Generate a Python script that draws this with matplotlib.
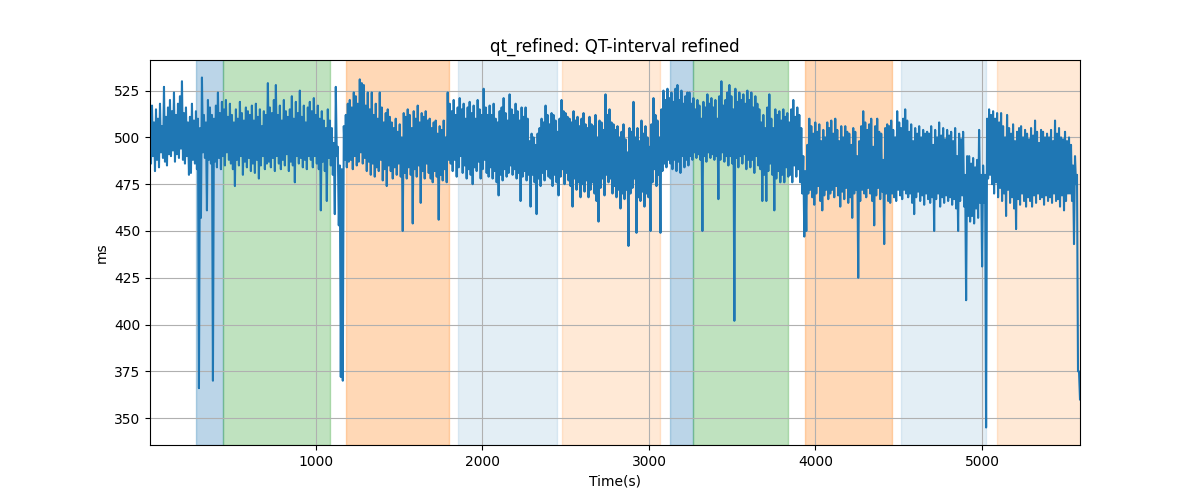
"""QT-interval refined trace with shaded protocol phases."""
import numpy as np
import matplotlib
matplotlib.use("Agg")
import matplotlib.pyplot as plt

# sampling of the refined QT series (s)
T0 = 3
DT = 6

# QT beat-to-beat swing (ms), one row per 120 s:
# upper beats
qt_upper = [
    512, 517, 508, 515, 510, 518, 506, 527, 511, 516,
    520, 514, 524, 512, 518, 522, 530, 513, 516, 508,
    511, 518, 509, 514, 510, 505, 532, 512, 508, 520,
    516, 512, 510, 517, 524, 513, 519, 515, 520, 511,
    518, 512, 508, 515, 510, 519, 513, 509, 516, 514,
    512, 517, 509, 518, 511, 515, 506, 514, 512, 529,
    516, 513, 520, 528, 512, 517, 509, 520, 514, 511,
    515, 522, 510, 519, 513, 525, 511, 517, 508, 516,
    519, 514, 521, 512, 517, 510, 514, 509, 505, 515,
    509, 505, 497, 527, 495, 485, 483, 506, 512, 518,
    520, 516, 524, 522, 518, 531, 529, 528, 517, 524,
    515, 524, 512, 518, 510, 524, 516, 508, 513, 515,
    511, 508, 505, 510, 503, 507, 500, 513, 511, 515,
    512, 505, 514, 510, 517, 508, 513, 511, 514, 509,
    510, 505, 508, 509, 502, 506, 504, 509, 500, 524,
    518, 514, 520, 512, 516, 521, 515, 518, 510, 516,
    519, 513, 517, 510, 520, 515, 512, 526, 516, 512,
    517, 512, 518, 510, 508, 514, 516, 521, 513, 509,
    523, 515, 512, 518, 514, 509, 516, 511, 516, 510,
    498, 502, 500, 496, 502, 505, 510, 508, 517, 512,
    507, 513, 512, 509, 503, 510, 520, 514, 513, 511,
    510, 508, 514, 509, 511, 506, 510, 513, 507, 505,
    511, 507, 506, 512, 500, 509, 508, 504, 523, 512,
    515, 508, 507, 504, 506, 500, 503, 507, 499, 492,
    505, 503, 519, 500, 505, 498, 509, 502, 506, 500,
    495, 507, 521, 512, 509, 500, 515, 525, 520, 526,
    521, 524, 519, 526, 528, 520, 525, 518, 522, 524,
    524, 518, 521, 515, 520, 517, 510, 519, 516, 523,
    518, 521, 516, 520, 510, 522, 530, 517, 520, 524,
    528, 522, 515, 526, 519, 524, 520, 523, 518, 525,
    520, 524, 516, 522, 518, 515, 508, 512, 505, 516,
    523, 510, 505, 515, 512, 514, 509, 515, 511, 513,
    508, 515, 520, 511, 516, 512, 505, 490, 482, 496,
    510, 506, 502, 508, 503, 507, 498, 504, 500, 508,
    505, 509, 502, 510, 504, 498, 506, 500, 506, 503,
    502, 496, 505, 503, 490, 498, 506, 514, 508, 504,
    507, 510, 495, 506, 510, 503, 502, 488, 505, 507,
    506, 509, 504, 500, 514, 508, 505, 510, 515, 509,
    503, 507, 498, 505, 502, 506, 500, 504, 502, 503,
    502, 506, 496, 504, 500, 508, 501, 505, 499, 504,
    501, 503, 498, 505, 490, 502, 499, 503, 480, 490,
    490, 486, 489, 484, 488, 504, 480, 485, 480, 510,
    515, 512, 514, 510, 513, 508, 513, 506, 500, 512,
    505, 502, 507, 498, 503, 505, 506, 500, 504, 502,
    499, 505, 501, 509, 503, 497, 504, 503, 500, 502,
    500, 504, 498, 509, 502, 505, 500, 499, 503, 498,
    500, 496, 485, 490, 480, 375,
]

# lower beats, each 6 s after the upper one
qt_lower = [
    486, 490, 482, 488, 484, 492, 489, 487, 485, 491,
    490, 493, 487, 491, 489, 494, 488, 486, 490, 480,
    481, 488, 486, 483, 366, 457, 492, 489, 461, 488,
    486, 370, 487, 484, 489, 483, 490, 485, 492, 488,
    486, 483, 474, 488, 485, 490, 480, 487, 484, 489,
    482, 486, 481, 488, 478, 485, 490, 483, 486, 487,
    484, 489, 482, 490, 486, 483, 488, 485, 491, 482,
    487, 485, 476, 490, 486, 489, 484, 488, 483, 490,
    488, 484, 490, 486, 483, 461, 487, 482, 466, 489,
    485, 480, 459, 490, 453, 372, 370, 488, 484, 487,
    488, 483, 490, 485, 487, 492, 486, 489, 482, 487,
    480, 486, 479, 484, 482, 488, 477, 483, 474, 485,
    482, 478, 484, 480, 486, 479, 450, 481, 478, 484,
    480, 454, 483, 479, 485, 465, 482, 478, 486, 481,
    478, 476, 482, 479, 456, 480, 477, 483, 476, 488,
    486, 482, 488, 479, 484, 490, 481, 485, 478, 483,
    480, 475, 484, 482, 487, 478, 483, 488, 481, 479,
    484, 478, 482, 476, 469, 480, 477, 483, 479, 481,
    485, 480, 483, 478, 481, 466, 479, 482, 477, 480,
    463, 480, 476, 459, 478, 474, 481, 477, 483, 479,
    478, 474, 480, 476, 469, 479, 483, 475, 481, 477,
    474, 463, 478, 472, 476, 468, 475, 471, 477, 468,
    472, 476, 470, 466, 455, 473, 478, 469, 480, 476,
    478, 470, 474, 468, 472, 462, 470, 467, 472, 442,
    470, 473, 478, 449, 468, 466, 471, 463, 470, 468,
    450, 476, 483, 474, 480, 449, 482, 486, 484, 488,
    486, 483, 488, 482, 487, 481, 490, 484, 488, 485,
    490, 488, 492, 489, 491, 488, 450, 490, 487, 492,
    489, 491, 488, 490, 467, 488, 492, 487, 490, 485,
    490, 486, 402, 489, 484, 490, 486, 491, 483, 488,
    484, 488, 481, 490, 485, 483, 466, 480, 466, 482,
    486, 480, 461, 478, 482, 476, 480, 476, 484, 479,
    480, 476, 485, 479, 483, 476, 470, 447, 450, 470,
    472, 468, 464, 470, 474, 466, 461, 469, 472, 467,
    470, 472, 468, 474, 469, 463, 471, 467, 473, 465,
    468, 457, 470, 472, 425, 466, 472, 470, 468, 473,
    470, 466, 453, 469, 473, 467, 471, 443, 470, 466,
    465, 470, 468, 466, 472, 469, 467, 472, 470, 468,
    470, 465, 459, 468, 471, 466, 469, 464, 470, 467,
    465, 468, 450, 467, 470, 463, 468, 465, 469, 466,
    468, 464, 467, 462, 450, 466, 469, 463, 413, 458,
    455, 458, 454, 462, 457, 465, 431, 465, 345, 478,
    480, 475, 470, 476, 468, 473, 466, 470, 458, 472,
    465, 468, 462, 451, 467, 464, 470, 466, 463, 468,
    466, 463, 469, 465, 470, 467, 468, 464, 469, 466,
    468, 465, 470, 466, 467, 463, 469, 461, 466, 470,
    470, 466, 443, 475, 375, 360,
]

# shaded phases (s)
phase_starts = [277, 441, 1180, 1851, 2480, 3124, 3264, 3935, 4512, 5088]
phase_ends = [441, 1086, 1797, 2446, 3064, 3264, 3837, 4462, 5022, 5600]
phase_colors = ["tab:blue", "tab:green", "tab:orange", "tab:blue", "tab:orange",
                "tab:blue", "tab:green", "tab:orange", "tab:blue", "tab:orange"]
phase_alphas = [0.3, 0.3, 0.3, 0.12, 0.17, 0.3, 0.3, 0.3, 0.12, 0.17]

qt = np.empty(len(qt_upper) + len(qt_lower))
qt[0::2] = qt_upper
qt[1::2] = qt_lower
t = T0 + DT * np.arange(len(qt))

fig, ax = plt.subplots(figsize=(12, 5))
for s, e, c, a in zip(phase_starts, phase_ends, phase_colors, phase_alphas):
    ax.axvspan(s, e, color=c, alpha=a, lw=1)
ax.plot(t, qt, color="tab:blue")
ax.set_xlim(t[0], t[-1])
ax.set_title("qt_refined: QT-interval refined")
ax.set_xlabel("Time(s)")
ax.set_ylabel("ms")
ax.grid(True)
plt.savefig("out.png", dpi=100)
plt.close()
